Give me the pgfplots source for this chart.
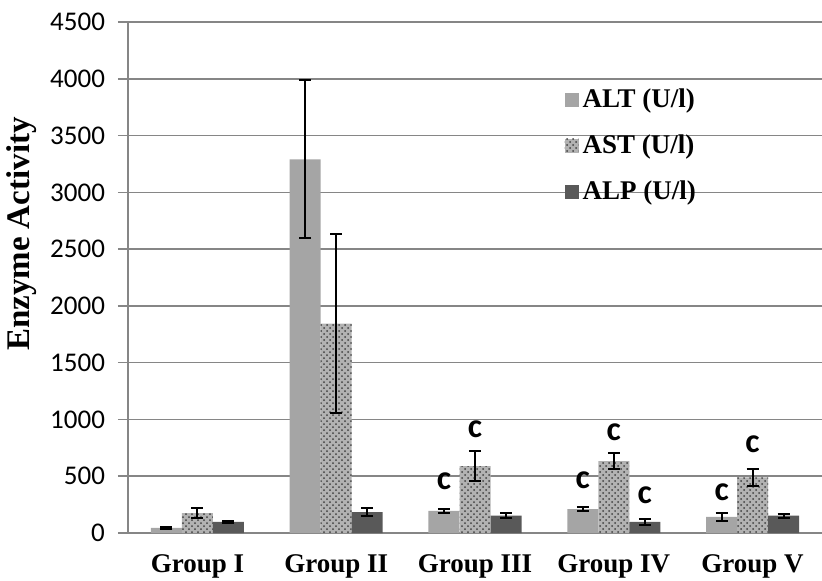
\documentclass[border=0pt]{standalone}
\usepackage{pgfplots}
\pgfplotsset{compat=1.18}
\usepackage{pgfplotstable}
\usetikzlibrary{patterns}
\usepackage{fontspec}
\setmainfont{Liberation Serif}
\newfontfamily\calfont{Carlito}
\definecolor{altc}{RGB}{165,165,165}
\definecolor{alpc}{RGB}{89,89,89}
\definecolor{gridc}{RGB}{134,134,134}
\pgfplotstableread{
x ALT ALTe AST ASTe ALP ALPe
0 45 6 176 47 97 12
1 3290 695 1845 785 185 38
2 194 14 590 135 153 20
3 211 14 634 74 97 30
4 141 35 490 75 153 17
}\datatable
\begin{document}
\begin{tikzpicture}
\begin{axis}[
  name=ax,
  scale only axis=true,
  width=347pt, height=255.5pt,
  ybar=0pt, bar width=15.5pt,
  xmin=-0.5, xmax=4.5, ymin=0, ymax=4500,
  ytick={0,500,...,4500},
  xtick={0,1,2,3,4},
  xticklabels={Group I, Group II, Group III, Group IV, Group V},
  xtick style={draw=none},
  extra x ticks={0.5,1.5,2.5,3.5},
  extra x tick labels={},
  extra x tick style={grid=none, tick align=outside, major tick length=6pt, tick style={draw=gridc, line width=0.75pt}},
  axis x line*=bottom, axis y line*=left,
  axis line style={-, draw=gridc, line width=0.75pt},
  ytick align=outside, major tick length=5pt,
  ytick style={draw=gridc, line width=0.75pt},
  ymajorgrids, grid style={draw=gridc, line width=0.75pt},
  /pgf/number format/assume math mode=true,
  /pgf/number format/1000 sep={},
  yticklabel style={font=\calfont\fontsize{13.5}{13.5}\selectfont, xshift=-3pt},
  xticklabel style={font=\bfseries\fontsize{13.5}{14}\selectfont, yshift=-2.5pt},
  ylabel={Enzyme Activity},
  ylabel style={font=\bfseries\fontsize{16.5}{17}\selectfont, at={(axis description cs:-0.153,0.585)}, anchor=center},
  legend style={draw=none, fill=none, at={(0.62,0.885)}, anchor=north west, font=\bfseries\fontsize{13.5}{14}\selectfont, row sep=8pt, cells={anchor=west}},
  legend image code/.code={\fill[#1,draw=none] (0pt,-3.5pt) rectangle (7pt,3.5pt);},
  error bars/y dir=both, error bars/y explicit,
  error bars/error bar style={line width=1pt, black},
  error bars/error mark options={rotate=90, mark size=3pt, line width=1pt, black},
]
\addplot[fill=altc, draw=none] table[x=x, y=ALT, y error=ALTe]{\datatable};
\addlegendentry{ALT (U/l)}
\addplot[fill=black!30, draw=none, postaction={pattern=crosshatch dots, pattern color=black!75}] table[x=x, y=AST, y error=ASTe]{\datatable};
\addlegendentry{AST (U/l)}
\addplot[fill=alpc, draw=none] table[x=x, y=ALP, y error=ALPe]{\datatable};
\addlegendentry{ALP (U/l)}
\begin{scope}[every node/.style={font=\calfont\bfseries\fontsize{17}{17}\selectfont}]
\node at (axis cs:1.777,452) {c};
\node at (axis cs:2,910) {c};
\node at (axis cs:2.777,467) {c};
\node at (axis cs:3,890) {c};
\node at (axis cs:3.223,334) {c};
\node at (axis cs:3.777,361) {c};
\node at (axis cs:4,778) {c};
\end{scope}
\end{axis}
\pgfresetboundingbox
\path ([xshift=-64pt,yshift=-23.5pt]ax.south west) rectangle ([yshift=266.5pt]ax.south east);
\end{tikzpicture}
\end{document}
